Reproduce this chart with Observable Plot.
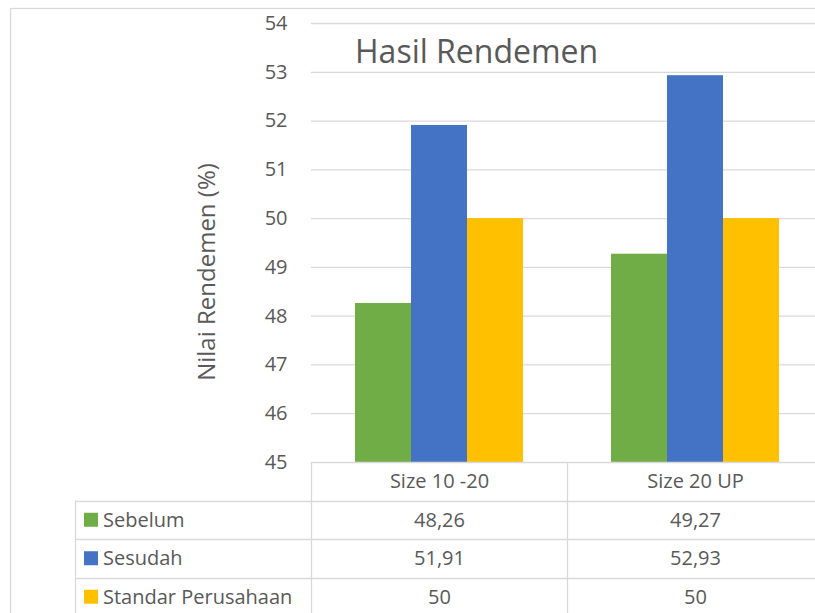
<!DOCTYPE html>
<html>
<head>
<meta charset="utf-8">
<script src="https://cdn.jsdelivr.net/npm/d3@7"></script>
<script src="https://cdn.jsdelivr.net/npm/@observablehq/plot@0.6"></script>
<style>
  html, body { margin: 0; padding: 0; background: #fff; overflow: hidden; }
  #chart svg { display: block; }
</style>
</head>
<body>
<div id="chart"></div>
<script>
// ---- data ----
const categories = ["Size 10 -20", "Size 20 UP"];
const seriesNames = ["Sebelum", "Sesudah", "Standar Perusahaan"];
const sebelum = [48.26, 49.27];
const sesudah = [51.91, 52.93];
const standar = [50, 50];
const seriesColors = ["#70ad47", "#4472c4", "#ffc000"];
const yTicks = [45, 46, 47, 48, 49, 50, 51, 52, 53, 54];
const titleText = "Hasil Rendemen";
const yLabel = "Nilai Rendemen (%)";

const seriesValues = [sebelum, sesudah, standar];
const rows = [];
seriesNames.forEach((s, si) => categories.forEach((c, ci) => {
  rows.push({category: c, series: s, value: seriesValues[si][ci]});
}));

const W = 815, H = 613;
const FONT = "'Open Sans', 'Noto Sans', sans-serif";
const TXT = "#595959";
const LINE = "#d9d9d9";
const fmt = v => String(v).replace(".", ",");
const rowH = 38.5;

const plot = Plot.plot({
  width: W,
  height: H,
  marginLeft: 311,
  marginRight: 0,
  marginTop: 23,
  marginBottom: 151,
  style: {fontFamily: FONT, fontSize: "20px", color: TXT, background: "#fff", overflow: "visible"},
  fx: {domain: categories, range: [311, 823], padding: 0, axis: null},
  x: {domain: seriesNames, paddingInner: 0, paddingOuter: 0.75, axis: null},
  y: {domain: [45, 54], ticks: yTicks, tickSize: 0, tickPadding: 24, label: null, tickFormat: d => d},
  color: {domain: seriesNames, range: seriesColors},
  marks: [
    Plot.ruleY(yTicks.filter(t => t > 45), {stroke: LINE, strokeWidth: 1.3, strokeOpacity: 1}),
    Plot.barY(rows, {fx: "category", x: "series", y1: 45, y2: "value", fill: "series"}),
    // data table values: one row per series, under each category column
    ...seriesNames.map((s, si) =>
      Plot.text(rows.filter(r => r.series === s), {
        fx: "category", text: d => fmt(d.value), frameAnchor: "bottom", lineAnchor: "middle",
        dy: (si + 1.5) * rowH, fill: TXT, fontSize: 20
      })
    ),
    // header row: category names
    Plot.text(categories, {fx: d => d, text: d => d, frameAnchor: "bottom", lineAnchor: "middle",
      dy: 0.5 * rowH, fill: TXT, fontSize: 20})
  ]
});

document.getElementById("chart").appendChild(plot);

// ---- table grid, legend keys, title, y label ----
const svg = d3.select(plot);
const fx = plot.scale("fx");
const colEdges = [fx.range[0], fx.range[0] + (fx.range[1]-fx.range[0])/2, fx.range[1]];
const yBase = H - 151;            // y of 45 baseline
const tableLeft = 75.5;
const g = svg.append("g").attr("fill", "none").attr("stroke", LINE).attr("stroke-width", 1.3);
// outer chart border
g.append("rect").attr("x", 10.5).attr("y", 8.5).attr("width", 900).attr("height", 800);
// header top line
g.append("line").attr("x1", colEdges[0]).attr("x2", 830).attr("y1", yBase + 0.5).attr("y2", yBase + 0.5);
for (let i = 1; i <= 3; i++) {
  const y = Math.round(yBase + i * rowH) + 0.5;
  g.append("line").attr("x1", tableLeft).attr("x2", 830).attr("y1", y).attr("y2", y);
}
g.append("line").attr("x1", tableLeft).attr("x2", tableLeft).attr("y1", yBase + rowH).attr("y2", 700);
colEdges.forEach(x => {
  g.append("line").attr("x1", Math.round(x) + 0.5).attr("x2", Math.round(x) + 0.5).attr("y1", yBase).attr("y2", 700);
});
// legend keys + series names
seriesNames.forEach((s, i) => {
  const cy = yBase + (i + 1.5) * rowH;
  svg.append("rect").attr("x", 84).attr("y", cy - 7).attr("width", 14).attr("height", 14)
    .attr("fill", seriesColors[i]);
  svg.append("text").attr("x", 103).attr("y", cy).attr("dy", "0.35em").attr("text-anchor", "start")
    .attr("fill", TXT).attr("font-size", 20).attr("font-family", FONT).text(s);
});
// title
svg.append("text").attr("x", 355).attr("y", 63).attr("text-anchor", "start").attr("fill", TXT)
  .attr("font-size", 32).attr("font-family", FONT).text(titleText);
// y label
svg.append("text").attr("transform", "translate(215,272) rotate(-90)").attr("text-anchor", "middle")
  .attr("fill", TXT).attr("font-size", 24).attr("font-family", FONT).text(yLabel);
</script>
</body>
</html>
